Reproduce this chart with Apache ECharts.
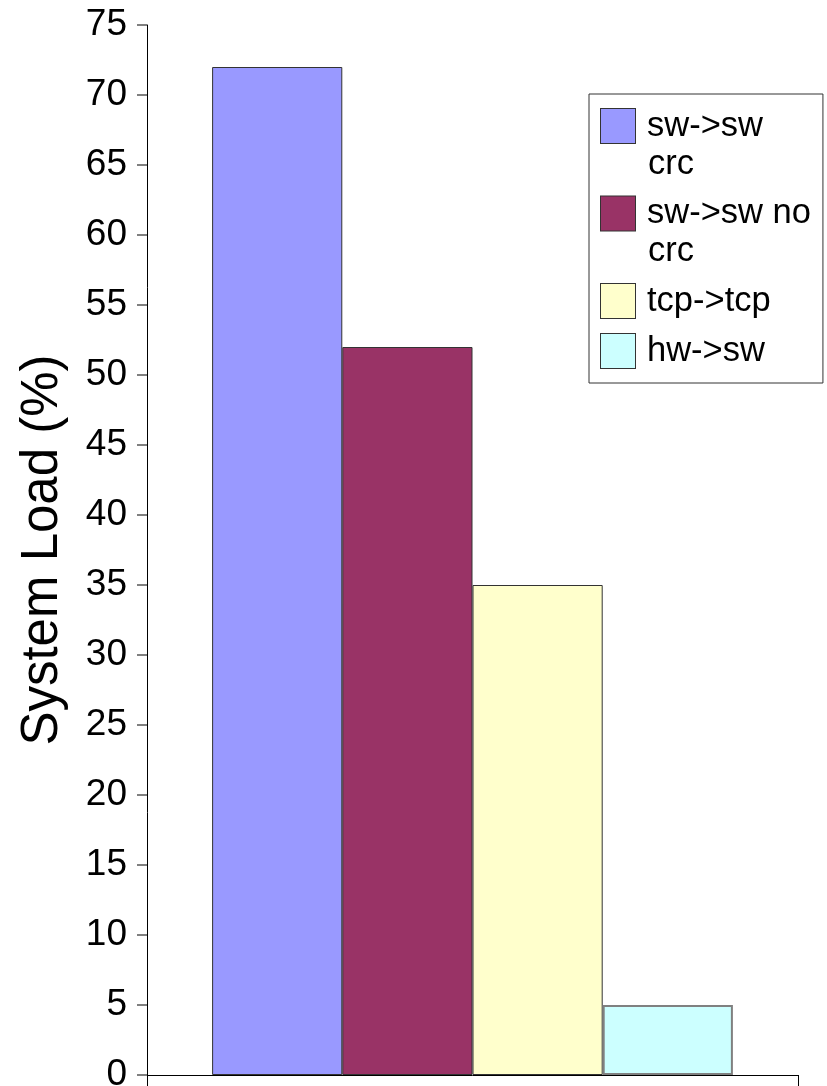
<!DOCTYPE html>
<html>
<head>
<meta charset="utf-8">
<script src="https://cdn.jsdelivr.net/npm/echarts@6/dist/echarts.min.js"></script>
<style>
  html, body { margin: 0; padding: 0; background: #fff; }
  #chart { width: 827px; height: 1086px; }
</style>
</head>
<body>
<div id="chart"></div>
<script>
// Single category, four configurations compared side by side
const categories = [''];
const seriesNames = ['sw->sw crc', 'sw->sw no crc', 'tcp->tcp', 'hw->sw'];
const loadValues = [72, 52, 35, 5];
const legendLines = [['sw->sw', 'crc'], ['sw->sw no', 'crc'], ['tcp->tcp'], ['hw->sw']];
const yTicks = { min: 0, max: 75, step: 5 };

const fills = ['#9999ff', '#993366', '#ffffcc', '#ccffff'];
const edges = ['#333333', '#333333', '#333333', '#808080'];
const FONT = '"Liberation Sans", Arial, sans-serif';

// Legend entries are rich text: a colour swatch token followed by the label,
// with wrapped lines indented to sit under the first line's text.
const rich = {
  t: { fontSize: 34.5, fontFamily: FONT, color: '#000', lineHeight: 38 },
  g: { width: 12, lineHeight: 38 },
  ind: { width: 47, lineHeight: 38 }
};
fills.forEach((c, i) => {
  rich['sw' + i] = {
    width: 34, height: 34, lineHeight: 38,
    backgroundColor: c, borderColor: '#333', borderWidth: 1
  };
});

const chart = echarts.init(document.getElementById('chart'));
chart.setOption({
  animation: false,
  backgroundColor: '#fff',
  grid: { left: 147, top: 25, right: 29, bottom: 11, containLabel: false, outerBoundsMode: 'none' },
  legend: {
    orient: 'vertical',
    left: 589,
    top: 94,
    padding: [14, 12, 14, 6],
    itemWidth: 0,
    itemHeight: 0,
    itemGap: 14,
    selectedMode: false,
    borderColor: '#333',
    borderWidth: 1,
    backgroundColor: '#fff',
    itemStyle: { opacity: 0 },
    data: seriesNames,
    formatter: name => {
      const i = seriesNames.indexOf(name);
      return legendLines[i]
        .map((line, k) => (k === 0 ? '{sw' + i + '|}{g|}' : '{ind|}') + '{t|' + line + '}')
        .join('\n');
    },
    textStyle: { rich: rich }
  },
  xAxis: {
    type: 'category',
    data: categories,
    axisLine: { lineStyle: { color: '#000', width: 1 } },
    axisTick: { show: true, length: 11, lineStyle: { color: '#000' } },
    axisLabel: { show: false },
    splitLine: { show: false }
  },
  yAxis: {
    type: 'value',
    min: yTicks.min,
    max: yTicks.max,
    interval: yTicks.step,
    name: 'System Load (%)',
    nameLocation: 'middle',
    nameGap: 79,
    nameTextStyle: { fontSize: 51, fontFamily: FONT, color: '#000' },
    axisLine: { show: true, lineStyle: { color: '#000', width: 1 } },
    axisTick: { show: true, length: 10, lineStyle: { color: '#808080', width: 2 } },
    axisLabel: { fontSize: 37, fontFamily: FONT, color: '#000', margin: 20 },
    splitLine: { show: false }
  },
  series: seriesNames.map((name, i) => ({
    name: name,
    type: 'bar',
    barGap: '0%',
    barCategoryGap: '20%',
    data: [loadValues[i]],
    itemStyle: { color: fills[i], borderColor: edges[i], borderWidth: i === 3 ? 2 : 1 }
  }))
});
</script>
</body>
</html>
